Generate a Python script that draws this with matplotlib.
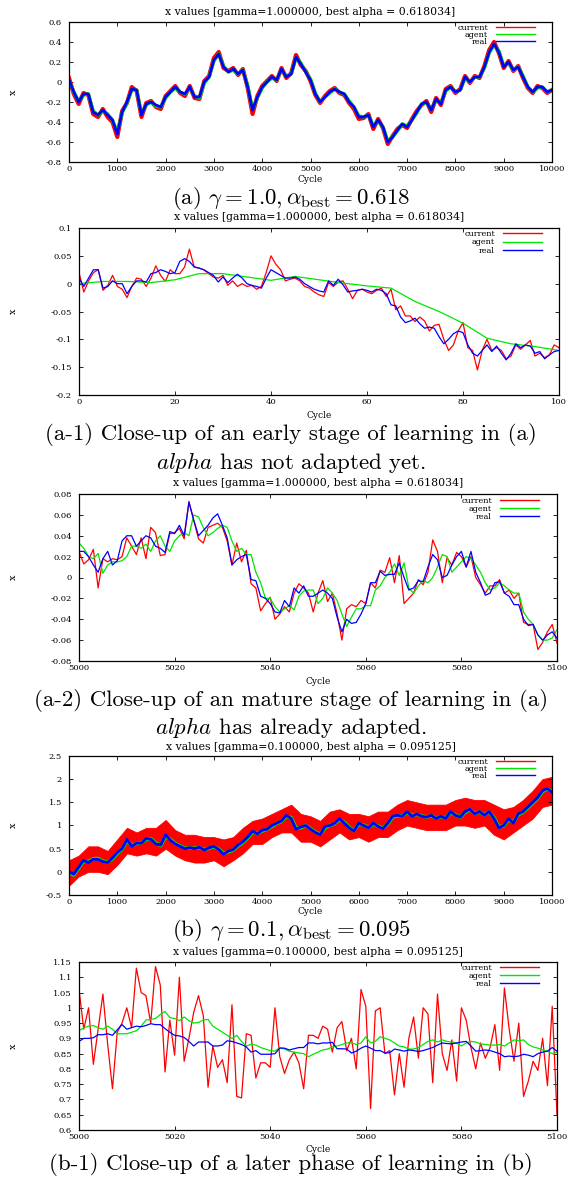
"""
Five stacked gnuplot-style panels: x values of current / agent / real over learning cycles.
"""

import numpy as np
import matplotlib
matplotlib.use("Agg")
import matplotlib.pyplot as plt
from matplotlib.lines import Line2D
from matplotlib.ticker import FuncFormatter, MultipleLocator

# ------------------------------------------------------------------
# DATA
# ------------------------------------------------------------------

# (a) gamma = 1.0, full run, sampled every 100 cycles
a_cycles = np.arange(0, 10001, 100)
a_real = [
    0.02, -0.10, -0.20, -0.12, -0.12, -0.30, -0.33, -0.28, -0.33, -0.38,
    -0.52, -0.30, -0.20, -0.07, -0.08, -0.33, -0.22, -0.20, -0.23, -0.25,
    -0.15, -0.10, -0.05, -0.10, -0.12, -0.05, -0.15, -0.15, 0.00, 0.05,
    0.22, 0.28, 0.15, 0.10, 0.13, 0.08, 0.12, -0.05, -0.28, -0.15,
    -0.05, 0.00, 0.05, 0.02, 0.13, 0.05, 0.08, 0.25, 0.18, 0.10,
    0.02, -0.12, -0.20, -0.15, -0.10, -0.07, -0.10, -0.12, -0.20, -0.25,
    -0.35, -0.35, -0.33, -0.45, -0.38, -0.45, -0.60, -0.55, -0.48, -0.42,
    -0.45, -0.38, -0.30, -0.22, -0.20, -0.28, -0.17, -0.22, -0.08, -0.05,
    -0.10, -0.08, 0.05, 0.00, 0.05, 0.05, 0.15, 0.30, 0.38, 0.30,
    0.15, 0.20, 0.12, 0.15, 0.05, -0.05, -0.10, -0.05, -0.05, -0.10,
    -0.08,
]
a_agent = [
    0.01, -0.10, -0.19, -0.13, -0.12, -0.29, -0.33, -0.29, -0.32, -0.38,
    -0.50, -0.31, -0.21, -0.08, -0.08, -0.32, -0.23, -0.20, -0.24, -0.25,
    -0.16, -0.10, -0.06, -0.10, -0.12, -0.06, -0.14, -0.16, -0.01, 0.05,
    0.21, 0.28, 0.16, 0.10, 0.12, 0.08, 0.12, -0.04, -0.27, -0.16,
    -0.06, 0.00, 0.04, 0.02, 0.12, 0.06, 0.08, 0.24, 0.19, 0.10,
    0.03, -0.11, -0.20, -0.15, -0.11, -0.07, -0.10, -0.12, -0.19, -0.25,
    -0.34, -0.35, -0.33, -0.44, -0.39, -0.45, -0.59, -0.55, -0.49, -0.42,
    -0.44, -0.38, -0.31, -0.22, -0.21, -0.27, -0.18, -0.21, -0.09, -0.05,
    -0.10, -0.08, 0.04, 0.00, 0.05, 0.05, 0.14, 0.29, 0.37, 0.31,
    0.16, 0.19, 0.12, 0.15, 0.06, -0.05, -0.10, -0.06, -0.05, -0.10,
    -0.08,
]
a_current = [
    0.04, -0.12, -0.22, -0.11, -0.13, -0.32, -0.35, -0.27, -0.35, -0.40,
    -0.55, -0.29, -0.21, -0.05, -0.09, -0.35, -0.21, -0.19, -0.25, -0.27,
    -0.14, -0.09, -0.04, -0.11, -0.14, -0.04, -0.16, -0.17, 0.01, 0.06,
    0.24, 0.30, 0.14, 0.11, 0.14, 0.07, 0.13, -0.06, -0.32, -0.14,
    -0.04, 0.01, 0.06, 0.01, 0.14, 0.04, 0.09, 0.27, 0.17, 0.11,
    0.01, -0.13, -0.21, -0.14, -0.09, -0.06, -0.11, -0.13, -0.21, -0.27,
    -0.37, -0.36, -0.32, -0.47, -0.37, -0.46, -0.62, -0.54, -0.47, -0.43,
    -0.46, -0.37, -0.29, -0.23, -0.19, -0.30, -0.16, -0.23, -0.07, -0.04,
    -0.11, -0.07, 0.06, -0.01, 0.06, 0.04, 0.16, 0.32, 0.40, 0.29,
    0.14, 0.21, 0.11, 0.16, 0.04, -0.06, -0.11, -0.04, -0.06, -0.11,
    -0.08,
]

# (a-1) close-up, cycles 0..100
a1_cycles = np.arange(0, 101)
a1_current = [
    0.020, -0.015, 0.005, 0.020, 0.025, -0.012, -0.003, 0.015, -0.005, -0.010,
    -0.025, -0.005, 0.010, 0.008, -0.005, 0.010, 0.032, 0.015, 0.004, 0.025,
    0.018, 0.018, 0.030, 0.062, 0.030, 0.028, 0.025, 0.018, 0.012, 0.010,
    0.015, -0.003, 0.005, -0.005, 0.000, -0.005, -0.003, -0.010, -0.005, 0.020,
    0.050, 0.035, 0.025, 0.005, 0.008, 0.010, 0.005, -0.005, -0.008, -0.015,
    -0.020, -0.023, 0.002, -0.005, 0.003, 0.005, -0.010, -0.027, -0.012, -0.010,
    -0.015, -0.018, -0.012, -0.008, -0.023, -0.010, -0.047, -0.040, -0.058, -0.058,
    -0.068, -0.060, -0.067, -0.085, -0.075, -0.073, -0.100, -0.120, -0.110, -0.085,
    -0.070, -0.115, -0.120, -0.155, -0.120, -0.100, -0.120, -0.115, -0.120, -0.135,
    -0.130, -0.110, -0.118, -0.110, -0.102, -0.130, -0.125, -0.133, -0.128, -0.110,
    -0.115,
]
a1_real = [
    0.010, -0.005, 0.010, 0.025, 0.025, -0.008, -0.005, 0.005, 0.000, 0.000,
    -0.018, -0.005, 0.005, 0.005, 0.003, 0.018, 0.020, 0.025, 0.022, 0.018,
    0.020, 0.040, 0.045, 0.040, 0.030, 0.028, 0.025, 0.020, 0.015, 0.003,
    0.012, 0.002, 0.010, 0.017, 0.010, 0.000, -0.003, -0.005, -0.008, 0.010,
    0.025, 0.020, 0.015, 0.010, 0.010, 0.012, 0.008, 0.000, -0.005, -0.010,
    -0.013, -0.015, 0.005, -0.003, 0.008, -0.002, -0.015, -0.013, -0.012, -0.010,
    -0.012, -0.015, -0.010, -0.012, -0.018, -0.038, -0.040, -0.060, -0.070, -0.067,
    -0.062, -0.072, -0.080, -0.078, -0.080, -0.095, -0.108, -0.100, -0.090, -0.085,
    -0.088, -0.110, -0.125, -0.130, -0.120, -0.110, -0.122, -0.112, -0.125, -0.137,
    -0.125, -0.108, -0.115, -0.110, -0.112, -0.125, -0.122, -0.135, -0.128, -0.122,
    -0.120,
]
a1_agent_cycles = np.arange(0, 101, 5)
a1_agent = [
    0.000, 0.004, 0.004, 0.002, 0.007, 0.018, 0.018, 0.012, 0.006, 0.013,
    0.007, 0.001, -0.004, -0.008, -0.032, -0.050, -0.071, -0.098, -0.108, -0.113,
    -0.120,
]

# (a-2) close-up, cycles 5000..5100
a2_cycles = np.arange(5000, 5101)
a2_current = [
    0.025, 0.013, 0.017, 0.027, -0.010, 0.018, 0.015, 0.018, 0.017, 0.020,
    0.038, 0.030, 0.022, 0.038, 0.018, 0.048, 0.043, 0.021, 0.022, 0.042,
    0.043, 0.047, 0.037, 0.073, 0.055, 0.037, 0.033, 0.048, 0.050, 0.052,
    0.048, 0.035, 0.012, 0.033, 0.015, 0.026, -0.006, -0.010, -0.032, -0.025,
    -0.019, -0.040, -0.035, -0.028, -0.033, -0.015, -0.006, -0.010, -0.015, -0.033,
    -0.015, -0.003, -0.023, -0.015, -0.035, -0.060, -0.030, -0.026, -0.028, -0.022,
    -0.025, -0.005, -0.010, 0.007, 0.005, 0.019, -0.005, 0.021, -0.025, -0.020,
    -0.015, -0.002, -0.007, 0.005, 0.036, 0.025, -0.005, 0.019, 0.012, 0.024,
    0.020, 0.010, 0.020, 0.000, -0.007, -0.015, -0.008, -0.008, -0.002, -0.015,
    -0.012, -0.020, -0.015, -0.043, -0.045, -0.045, -0.069, -0.062, -0.052, -0.045,
    -0.063,
]
a2_agent = [
    0.033, 0.028, 0.020, 0.018, 0.023, 0.004, 0.012, 0.015, 0.015, 0.016,
    0.020, 0.030, 0.030, 0.028, 0.032, 0.025, 0.035, 0.040, 0.030, 0.025,
    0.035, 0.040, 0.043, 0.040, 0.060, 0.058, 0.048, 0.040, 0.043, 0.047,
    0.050, 0.048, 0.035, 0.025, 0.028, 0.022, 0.022, 0.005, -0.005, -0.020,
    -0.020, -0.028, -0.033, -0.030, -0.027, -0.031, -0.018, -0.013, -0.012, -0.012,
    -0.025, -0.020, -0.010, -0.015, -0.022, -0.035, -0.047, -0.038, -0.030, -0.030,
    -0.027, -0.027, -0.012, -0.008, 0.000, 0.005, 0.013, 0.002, 0.014, -0.010,
    -0.015, -0.008, -0.003, -0.005, 0.000, 0.010, 0.022, 0.020, 0.005, 0.010,
    0.015, 0.020, 0.018, 0.012, 0.005, -0.005, -0.012, -0.010, -0.005, -0.008,
    -0.012, -0.015, -0.015, -0.033, -0.040, -0.045, -0.055, -0.060, -0.060, -0.058,
    -0.050,
]
a2_real = [
    0.025, 0.025, 0.020, 0.012, 0.005, 0.018, 0.025, 0.012, 0.016, 0.035,
    0.040, 0.040, 0.030, 0.035, 0.040, 0.038, 0.030, 0.028, 0.024, 0.044,
    0.042, 0.050, 0.040, 0.072, 0.055, 0.040, 0.045, 0.050, 0.057, 0.061,
    0.050, 0.038, 0.012, 0.017, 0.020, 0.022, -0.002, -0.003, -0.018, -0.020,
    -0.025, -0.033, -0.034, -0.022, -0.028, -0.010, -0.015, -0.008, -0.018, -0.018,
    -0.015, -0.012, -0.015, -0.020, -0.038, -0.052, -0.040, -0.044, -0.043, -0.035,
    -0.025, -0.005, -0.005, 0.006, 0.002, 0.003, 0.003, 0.014, 0.000, -0.012,
    -0.010, -0.003, -0.004, 0.010, 0.022, 0.017, 0.000, 0.002, 0.012, 0.020,
    0.025, 0.010, 0.025, 0.005, -0.005, -0.017, -0.015, -0.005, -0.004, -0.015,
    -0.018, -0.026, -0.026, -0.040, -0.046, -0.045, -0.055, -0.060, -0.055, -0.052,
    -0.058,
]

# (b) gamma = 0.1, full run; current is a wide noisy band (upper / lower edge)
b_cycles = np.arange(0, 10001, 100)
b_real = [
    0.00, -0.05, 0.10, 0.25, 0.20, 0.27, 0.27, 0.22, 0.20, 0.30,
    0.42, 0.50, 0.70, 0.55, 0.62, 0.62, 0.72, 0.70, 0.60, 0.58,
    0.80, 0.68, 0.60, 0.55, 0.50, 0.52, 0.50, 0.53, 0.47, 0.52,
    0.55, 0.48, 0.38, 0.45, 0.48, 0.58, 0.65, 0.75, 0.88, 0.82,
    0.90, 0.92, 1.00, 1.05, 1.10, 1.22, 1.15, 0.92, 0.97, 1.00,
    0.92, 0.85, 0.80, 0.98, 1.00, 1.05, 1.15, 1.05, 0.95, 0.88,
    1.05, 1.00, 0.95, 1.05, 0.98, 0.93, 1.05, 1.20, 1.22, 1.20,
    1.30, 1.20, 1.25, 1.20, 1.18, 1.22, 1.15, 1.20, 1.15, 1.30,
    1.22, 1.18, 1.30, 1.35, 1.25, 1.30, 1.22, 1.30, 1.15, 0.95,
    1.00, 1.15, 1.05, 1.25, 1.30, 1.40, 1.50, 1.60, 1.75, 1.80,
    1.72,
]
b_agent = [
    -0.02, -0.07, 0.08, 0.23, 0.22, 0.28, 0.29, 0.23, 0.21, 0.28,
    0.40, 0.49, 0.68, 0.57, 0.61, 0.63, 0.70, 0.71, 0.62, 0.57,
    0.77, 0.70, 0.61, 0.56, 0.51, 0.51, 0.51, 0.52, 0.48, 0.51,
    0.54, 0.49, 0.40, 0.43, 0.47, 0.56, 0.63, 0.73, 0.86, 0.83,
    0.88, 0.92, 0.98, 1.04, 1.09, 1.20, 1.17, 0.95, 0.95, 1.00,
    0.93, 0.86, 0.81, 0.95, 1.00, 1.04, 1.13, 1.07, 0.96, 0.89,
    1.03, 1.01, 0.96, 1.03, 0.99, 0.94, 1.03, 1.18, 1.21, 1.21,
    1.28, 1.22, 1.24, 1.21, 1.18, 1.21, 1.16, 1.19, 1.16, 1.28,
    1.23, 1.18, 1.28, 1.34, 1.26, 1.29, 1.23, 1.29, 1.17, 0.97,
    0.99, 1.13, 1.07, 1.23, 1.29, 1.38, 1.48, 1.58, 1.73, 1.79,
    1.74,
]
b_band_cycles = np.arange(0, 10001, 200)
b_current_hi = [
    0.25, 0.35, 0.55, 0.55, 0.45, 0.70, 0.95, 0.85, 0.95, 0.95,
    1.12, 0.90, 0.80, 0.80, 0.75, 0.75, 0.70, 0.75, 0.95, 1.10,
    1.15, 1.25, 1.35, 1.45, 1.25, 1.20, 1.10, 1.30, 1.35, 1.25,
    1.25, 1.20, 1.30, 1.30, 1.45, 1.55, 1.50, 1.45, 1.45, 1.45,
    1.55, 1.60, 1.55, 1.55, 1.45, 1.35, 1.40, 1.55, 1.75, 2.00,
    2.05,
]
b_current_lo = [
    -0.30, -0.10, 0.00, 0.00, -0.05, 0.15, 0.40, 0.35, 0.40, 0.35,
    0.50, 0.35, 0.25, 0.20, 0.20, 0.25, 0.12, 0.25, 0.40, 0.60,
    0.60, 0.75, 0.85, 0.85, 0.65, 0.65, 0.55, 0.70, 0.85, 0.70,
    0.75, 0.65, 0.75, 0.75, 0.90, 1.00, 0.95, 0.90, 0.90, 0.90,
    1.00, 1.00, 0.95, 1.00, 0.80, 0.70, 0.85, 1.00, 1.15, 1.40,
    1.45,
]

# (b-1) close-up, cycles 5000..5100
b1_cycles = np.arange(5000, 5101)
b1_current = [
    1.060, 0.930, 1.000, 0.815, 0.930, 1.045, 0.880, 0.735, 0.920, 0.950,
    1.000, 0.935, 1.130, 1.050, 1.040, 0.950, 1.135, 1.075, 0.790, 0.960,
    0.845, 1.100, 0.825, 0.900, 0.985, 1.040, 0.975, 0.740, 0.875, 0.805,
    0.830, 0.755, 1.010, 0.710, 0.705, 0.915, 0.910, 0.770, 0.820, 0.820,
    0.805, 1.000, 0.840, 0.785, 0.830, 0.855, 0.820, 0.735, 0.910, 0.910,
    0.900, 0.940, 0.930, 0.855, 0.935, 0.955, 0.860, 0.900, 0.800, 1.060,
    1.005, 0.670, 0.990, 1.000, 0.850, 0.860, 0.715, 0.850, 0.740, 0.900,
    0.970, 0.835, 1.000, 0.980, 0.755, 1.045, 0.850, 0.795, 0.895, 0.760,
    1.000, 0.960, 0.870, 0.800, 0.885, 0.835, 0.870, 0.945, 0.795, 1.065,
    0.930, 0.825, 0.950, 0.710, 0.760, 0.825, 0.795, 0.900, 0.745, 1.005,
    0.650,
]
b1_agent = [
    0.925, 0.935, 0.940, 0.942, 0.935, 0.930, 0.940, 0.930, 0.915, 0.915,
    0.915, 0.920, 0.925, 0.940, 0.960, 0.962, 0.965, 0.978, 0.988, 0.968,
    0.965, 0.958, 0.970, 0.958, 0.950, 0.952, 0.960, 0.962, 0.940, 0.930,
    0.920, 0.910, 0.900, 0.910, 0.890, 0.875, 0.880, 0.878, 0.870, 0.865,
    0.860, 0.858, 0.870, 0.865, 0.858, 0.855, 0.852, 0.850, 0.840, 0.848,
    0.855, 0.862, 0.865, 0.872, 0.875, 0.880, 0.885, 0.885, 0.880, 0.885,
    0.905, 0.885, 0.890, 0.905, 0.900, 0.895, 0.885, 0.875, 0.872, 0.865,
    0.865, 0.870, 0.880, 0.890, 0.895, 0.888, 0.895, 0.890, 0.888, 0.885,
    0.875, 0.885, 0.890, 0.888, 0.882, 0.880, 0.878, 0.878, 0.880, 0.875,
    0.885, 0.895, 0.892, 0.895, 0.880, 0.872, 0.868, 0.862, 0.858, 0.850,
    0.855,
]
b1_real = [
    0.890, 0.900, 0.900, 0.902, 0.912, 0.912, 0.915, 0.910, 0.928, 0.945,
    0.930, 0.935, 0.940, 0.938, 0.942, 0.948, 0.945, 0.945, 0.932, 0.920,
    0.910, 0.908, 0.903, 0.890, 0.875, 0.888, 0.888, 0.888, 0.875, 0.875,
    0.878, 0.892, 0.890, 0.885, 0.880, 0.872, 0.855, 0.860, 0.848, 0.848,
    0.848, 0.850, 0.868, 0.868, 0.862, 0.866, 0.870, 0.870, 0.885, 0.885,
    0.882, 0.885, 0.885, 0.887, 0.866, 0.866, 0.865, 0.852, 0.858, 0.868,
    0.875, 0.868, 0.860, 0.860, 0.852, 0.853, 0.865, 0.862, 0.858, 0.862,
    0.860, 0.857, 0.860, 0.865, 0.870, 0.878, 0.885, 0.883, 0.882, 0.885,
    0.888, 0.890, 0.875, 0.858, 0.860, 0.862, 0.860, 0.855, 0.850, 0.840,
    0.842, 0.840, 0.842, 0.848, 0.845, 0.840, 0.850, 0.855, 0.858, 0.870,
    0.858,
]

SERIES_LABELS = ["current", "agent", "real"]
TITLE_A = "x values [gamma=1.000000, best alpha = 0.618034]"
TITLE_B = "x values [gamma=0.100000, best alpha = 0.095125]"

# ------------------------------------------------------------------
# STYLE / LAYOUT (pixel boxes on a 574 x 1179 canvas)
# ------------------------------------------------------------------

W, H = 574, 1179
RED, GREEN, BLUE = "#ff0000", "#00e600", "#0000ff"
SMALL_FONT = "DejaVu Serif"
CAP_FONT = ["cmr10", "DejaVu Serif"]
CAP_SIZE = 16.5
LEG_SIZE = 5.8

plt.rcParams["font.family"] = SMALL_FONT
plt.rcParams["mathtext.fontset"] = "cm"
plt.rcParams["axes.unicode_minus"] = False
plt.rcParams["axes.formatter.use_mathtext"] = False

fig = plt.figure(figsize=(W / 100, H / 100), dpi=100)


def fx(px):
    return px / W


def fy(py):
    return 1 - py / H


def make_axes(box):
    l, t, r, b = box
    return fig.add_axes([fx(l), fy(b), fx(r - l), (b - t) / H])


def style_axes(ax, box, xlim, xstep, ylim, ystep, title, title_y, cycle_y):
    l, t, r, b = box
    ax.set_xlim(*xlim)
    ax.set_ylim(*ylim)
    ax.xaxis.set_major_locator(MultipleLocator(xstep))
    ax.yaxis.set_major_locator(MultipleLocator(ystep))
    fmt = FuncFormatter(lambda v, p: "%g" % (round(v, 6) + 0.0))
    ax.xaxis.set_major_formatter(fmt)
    ax.yaxis.set_major_formatter(fmt)
    ax.tick_params(direction="in", top=True, right=True, length=3,
                   width=0.6, labelsize=6)
    ax.tick_params(axis="x", pad=2.5)
    ax.tick_params(axis="y", pad=5)
    for s in ax.spines.values():
        s.set_linewidth(0.9)
    fig.text(fx((l + r) / 2), fy(title_y), title, ha="center", va="center",
             fontsize=7.8)
    fig.text(fx((l + r) / 2), fy(cycle_y), "Cycle", ha="center", va="center",
             fontsize=6.5)
    fig.text(fx(13), fy((t + b) / 2), "x", ha="center", va="center",
             rotation=90, fontsize=7)


def add_legend(ax, line_right, top, spacing):
    handles = [Line2D([], [], color=c, lw=1.0) for c in (RED, GREEN, BLUE)]
    fs_px = LEG_SIZE * 1.389
    ax.legend(handles, SERIES_LABELS, loc="upper right",
              bbox_to_anchor=(fx(line_right), fy(top)),
              bbox_transform=fig.transFigure, frameon=False, markerfirst=False,
              fontsize=LEG_SIZE, handlelength=39 / fs_px,
              handletextpad=8 / fs_px,
              labelspacing=(spacing - fs_px) / fs_px,
              borderpad=0, borderaxespad=0)


def caption(y, text):
    fig.text(fx(291), fy(y), text, ha="center", va="center",
             fontsize=CAP_SIZE, family=CAP_FONT)


# ------------------------------------------------------------------
# PANELS
# ------------------------------------------------------------------

# (a)
box = (69, 22, 552, 162)
ax = make_axes(box)
ax.plot(a_cycles, a_current, color=RED, lw=3.0)
ax.plot(a_cycles, a_agent, color=GREEN, lw=2.5)
ax.plot(a_cycles, a_real, color=BLUE, lw=2.0)
style_axes(ax, box, (0, 10000), 1000, (-0.8, 0.6), 0.2, TITLE_A, 12, 179)
add_legend(ax, 535, 24, 7.0)
caption(198, r"(a) $\gamma = 1.0, \alpha_{\rm best} = 0.618$")

# (a-1)
box = (79, 228, 559, 395)
ax = make_axes(box)
ax.plot(a1_cycles, a1_current, color=RED, lw=0.9)
ax.plot(a1_agent_cycles, a1_agent, color=GREEN, lw=0.9)
ax.plot(a1_cycles, a1_real, color=BLUE, lw=0.9)
style_axes(ax, box, (0, 100), 20, (-0.2, 0.1), 0.05, TITLE_A, 217, 416)
add_legend(ax, 542, 230, 8.5)
caption(434, "(a-1) Close-up of an early stage of learning in (a)")
caption(462, r"$alpha$ has not adapted yet.")

# (a-2)
box = (79, 494, 557, 661)
ax = make_axes(box)
ax.plot(a2_cycles, a2_current, color=RED, lw=0.9)
ax.plot(a2_cycles, a2_agent, color=GREEN, lw=0.9)
ax.plot(a2_cycles, a2_real, color=BLUE, lw=0.9)
style_axes(ax, box, (5000, 5100), 20, (-0.08, 0.08), 0.02, TITLE_A, 483, 681)
add_legend(ax, 539, 497, 8.0)
caption(700, "(a-2) Close-up of an mature stage of learning in (a)")
caption(728, r"$alpha$ has already adapted.")

# (b)
box = (69, 756, 552, 895)
ax = make_axes(box)
ax.fill_between(b_band_cycles, b_current_lo, b_current_hi, color=RED, lw=0.6)
ax.plot(b_cycles, b_agent, color=GREEN, lw=2.6)
ax.plot(b_cycles, b_real, color=BLUE, lw=2.0)
style_axes(ax, box, (0, 10000), 1000, (-0.5, 2.5), 0.5, TITLE_B, 747, 911)
add_legend(ax, 535, 758, 7.0)
caption(930, r"(b) $\gamma = 0.1, \alpha_{\rm best} = 0.095$")

# (b-1)
box = (79, 962, 557, 1130)
ax = make_axes(box)
ax.plot(b1_cycles, b1_current, color=RED, lw=0.9)
ax.plot(b1_cycles, b1_agent, color=GREEN, lw=0.9)
ax.plot(b1_cycles, b1_real, color=BLUE, lw=0.9)
style_axes(ax, box, (5000, 5100), 20, (0.6, 1.15), 0.05, TITLE_B, 952, 1149)
add_legend(ax, 539, 964, 8.0)
caption(1165, "(b-1) Close-up of a later phase of learning in (b)")

fig.savefig("out.png", dpi=100)
